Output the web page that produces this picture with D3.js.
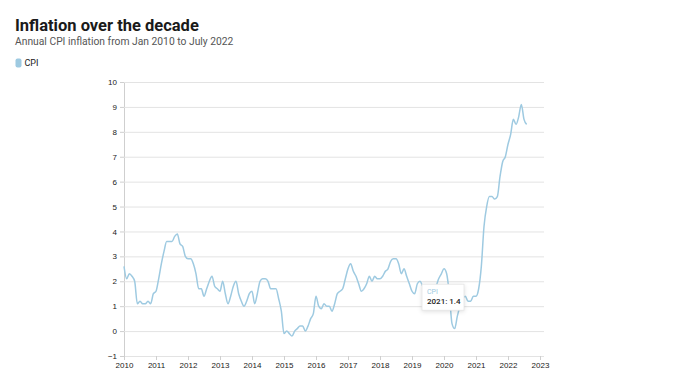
<!DOCTYPE html>
<html lang="en">
<head>
  <meta charset="utf-8">
  <title>Inflation over the decade</title>
  <style>
    body {
      margin: 0;
      background: #ffffff;
      font-family: Roboto, "Noto Sans", sans-serif;
    }

    .title {
      font-size: 16.5px;
      font-weight: 700;
      fill: #1a1a1a;
    }

    .subtitle {
      font-size: 10.3px;
      fill: #555;
    }

    .legend-text {
      font-size: 9px;
      fill: #222;
    }

    .axis text {
      font-size: 8px;
      fill: #222;
    }

    .tip-name {
      font-size: 7px;
      fill: #9ecae1;
    }

    .tip-value {
      font-size: 8px;
      font-weight: 500;
      fill: #222;
    }
  </style>
</head>

<body>
  <svg id="chart" width="680" height="383"></svg>

  <script src="https://cdnjs.cloudflare.com/ajax/libs/d3/7.8.5/d3.min.js"></script>
  <script>
    //
    // Data
    //

    // first month of the series (Jan 2010), one value per month
    var startYear = 2010
    var cpi = [
      2.6, 2.1, 2.3, 2.2, 2.0, 1.1, 1.2, 1.1, 1.1, 1.2, 1.1, 1.5, // 2010
      1.6, 2.1, 2.7, 3.2, 3.6, 3.6, 3.6, 3.8, 3.9, 3.5, 3.4, 3.0, // 2011
      2.9, 2.9, 2.7, 2.3, 1.7, 1.7, 1.4, 1.7, 2.0, 2.2, 1.8, 1.7, // 2012
      1.6, 2.0, 1.5, 1.1, 1.4, 1.8, 2.0, 1.5, 1.2, 1.0, 1.2, 1.5, // 2013
      1.6, 1.1, 1.5, 2.0, 2.1, 2.1, 2.0, 1.7, 1.7, 1.7, 1.3, 0.8, // 2014
      -0.1, 0.0, -0.1, -0.2, 0.0, 0.1, 0.2, 0.2, 0.0, 0.2, 0.5, 0.7, // 2015
      1.4, 1.0, 0.9, 1.1, 1.0, 1.0, 0.8, 1.1, 1.5, 1.6, 1.7, 2.1, // 2016
      2.5, 2.7, 2.4, 2.2, 1.9, 1.6, 1.7, 1.9, 2.2, 2.0, 2.2, 2.1, // 2017
      2.1, 2.2, 2.4, 2.5, 2.8, 2.9, 2.9, 2.7, 2.3, 2.5, 2.2, 1.9, // 2018
      1.6, 1.5, 1.9, 2.0, 1.8, 1.6, 1.8, 1.7, 1.7, 1.8, 2.1, 2.3, // 2019
      2.5, 2.3, 1.5, 0.3, 0.1, 0.6, 1.0, 1.3, 1.4, 1.2, 1.2, 1.4, // 2020
      1.4, 1.7, 2.6, 4.2, 5.0, 5.4, 5.4, 5.3, 5.4, 6.2, 6.8, 7.0, // 2021
      7.5, 7.9, 8.5, 8.3, 8.6, 9.1, 8.5, 8.3                      // 2022
    ]

    var yTicks = [-1, 0, 1, 2, 3, 4, 5, 6, 7, 8, 9, 10]
    var xTicks = [2010, 2011, 2012, 2013, 2014, 2015, 2016, 2017, 2018, 2019, 2020, 2021, 2022, 2023]

    // the hovered point shown in the tooltip
    var tipLabel = '2021'
    var tipValue = 1.4

    //
    // Configuration
    //

    var colorLine = '#9ecae1'
    var colorGrid = '#e3e3e3'
    var colorAxis = '#cfcfcf'
    var margin = { left: 124, right: 140, top: 82, bottom: 27 }
    var width = 680
    var height = 383

    var svg = d3.select('#chart')

    //
    // Header
    //

    svg.append('text').attr('class', 'title').attr('x', 15).attr('y', 30.5)
      .text('Inflation over the decade')
    svg.append('text').attr('class', 'subtitle').attr('x', 15).attr('y', 44.5)
      .text('Annual CPI inflation from Jan 2010 to July 2022')

    svg.append('rect')
      .attr('x', 15.5).attr('y', 58.5).attr('width', 6).attr('height', 9)
      .attr('rx', 2)
      .attr('fill', colorLine)
    svg.append('text').attr('class', 'legend-text').attr('x', 24.5).attr('y', 66)
      .text('CPI')

    //
    // Scales
    //

    var x = d3.scaleLinear()
      .domain([2010, 2023])
      .range([margin.left, width - margin.right])

    var y = d3.scaleLinear()
      .domain([-1, 10])
      .range([height - margin.bottom, margin.top])

    // gridlines + y axis
    var yAxis = svg.append('g')
      .attr('class', 'axis')
      .attr('transform', 'translate(' + margin.left + ',0)')
      .call(d3.axisLeft(y)
        .tickValues(yTicks)
        .tickFormat(d3.format('d'))
        .tickSize(4)
        .tickPadding(3))
    yAxis.select('.domain').attr('stroke', colorAxis)
    yAxis.selectAll('.tick line').attr('stroke', colorAxis)
    yAxis.selectAll('.tick').append('line')
      .attr('x1', 0)
      .attr('x2', x(2023) - margin.left + 4)
      .attr('stroke', colorGrid)

    // x axis
    var xAxis = svg.append('g')
      .attr('class', 'axis')
      .attr('transform', 'translate(0,' + y(-1) + ')')
      .call(d3.axisBottom(x)
        .tickValues(xTicks)
        .tickFormat(d3.format('d'))
        .tickSize(4)
        .tickPadding(2))
    xAxis.select('.domain').remove()
    xAxis.selectAll('.tick line').attr('stroke', colorAxis)

    //
    // Line
    //

    var line = d3.line()
      .x(function(d, i) { return x(startYear + i / 12) })
      .y(function(d) { return y(d) })
      .curve(d3.curveMonotoneX)

    svg.append('path')
      .datum(cpi)
      .attr('d', line)
      .attr('fill', 'none')
      .attr('stroke', colorLine)
      .attr('stroke-width', 1.5)

    //
    // Tooltip
    //

    var tipIndex = (+tipLabel - startYear) * 12
    var tx = x(startYear + tipIndex / 12)
    var ty = y(tipValue)
    var tip = svg.append('g')
      .attr('transform', 'translate(' + (tx - 54) + ',' + (ty - 12) + ')')

    tip.append('rect')
      .attr('width', 42).attr('height', 26)
      .attr('fill', '#fff')
      .attr('stroke', '#e6e6e6')
      .attr('stroke-width', 0.8)
      .style('filter', 'drop-shadow(0 1px 2px rgba(0,0,0,0.12))')
    tip.append('text').attr('class', 'tip-name').attr('x', 5).attr('y', 10)
      .text('CPI')
    tip.append('text').attr('class', 'tip-value').attr('x', 5).attr('y', 19.5)
      .text(tipLabel + ': ' + tipValue)
  </script>
</body>
</html>
